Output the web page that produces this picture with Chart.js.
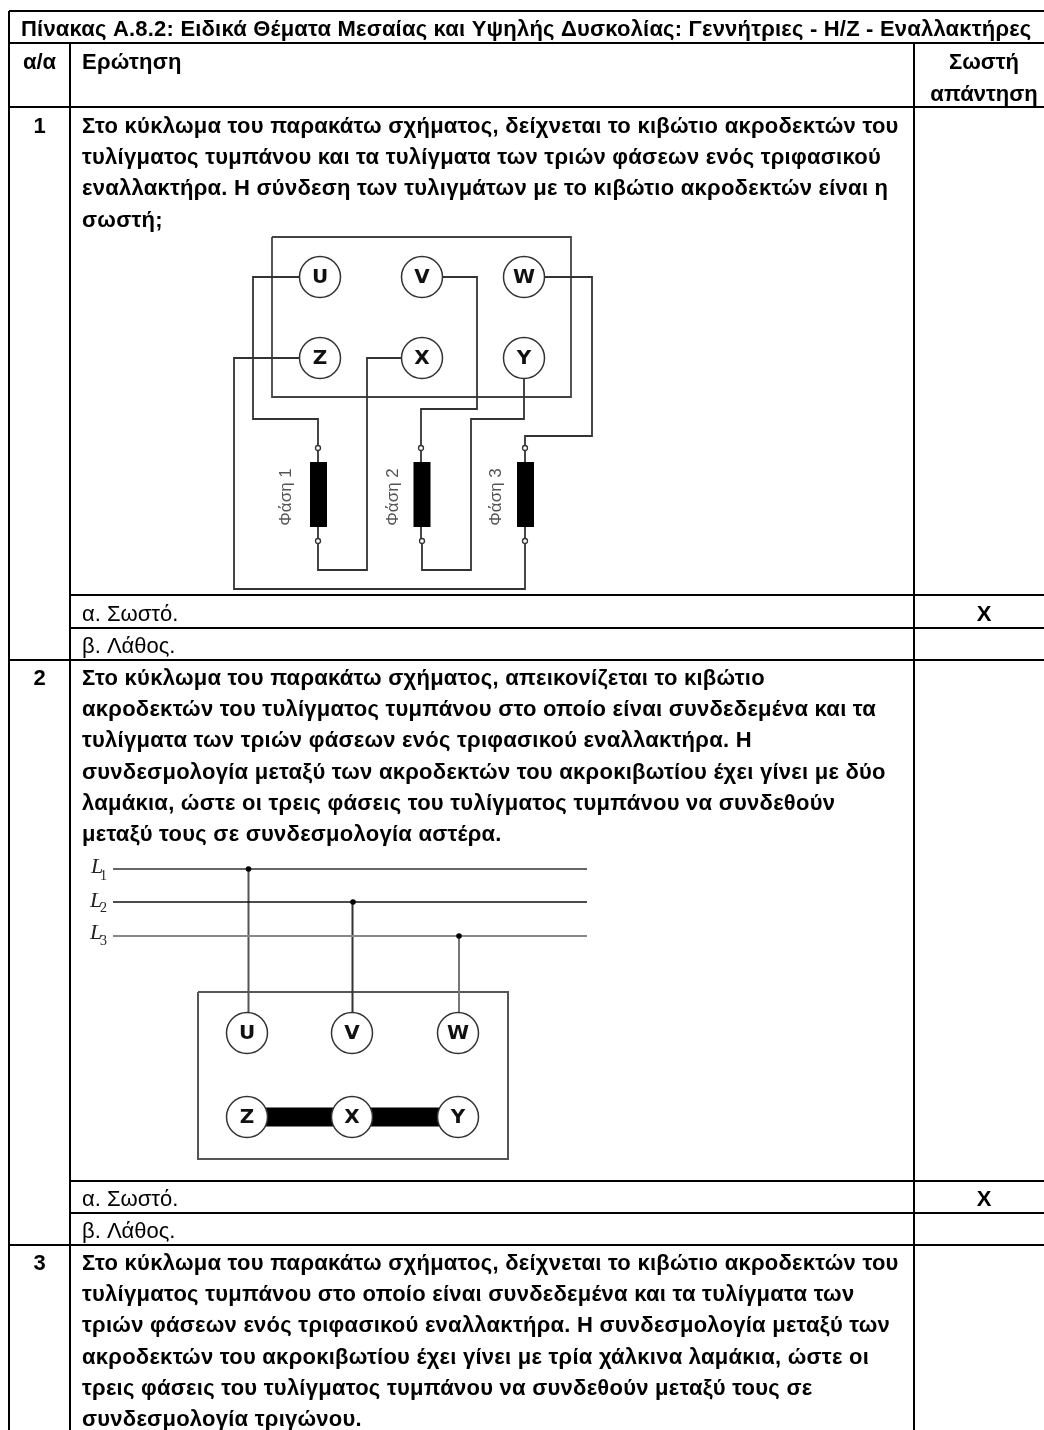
<!DOCTYPE html>
<html lang="el">
<head>
<meta charset="utf-8">
<title>Πίνακας Α.8.2</title>
<script src="https://cdn.jsdelivr.net/npm/chart.js@4"></script>
<style>
  html, body { margin: 0; padding: 0; background: #fff; overflow: hidden; }
  canvas { display: block; }
</style>
</head>
<body>
<canvas id="tableChart" width="1044" height="1430"></canvas>
<script>
const tableRules = [
  [[9, 11], [1044, 11]], [[9, 43], [1044, 43]], [[9, 107], [1044, 107]],
  [[70, 595], [1044, 595]], [[70, 628], [1044, 628]], [[9, 660], [1044, 660]],
  [[70, 1181], [1044, 1181]], [[70, 1213], [1044, 1213]], [[9, 1245], [1044, 1245]],
  [[9, 11], [9, 1430]], [[70, 43], [70, 1430]], [[914, 43], [914, 1430]]
];

// first figure
const boxOne = [[272, 237], [571, 237], [571, 397], [272, 397], [272, 237]];
const wiresOne = [
  [[299, 277], [253, 277], [253, 419], [318, 419], [318, 448]],
  [[443, 277], [477, 277], [477, 409], [421, 409], [421, 448]],
  [[545, 277], [592, 277], [592, 436], [525, 436], [525, 448]],
  [[524, 379], [524, 419], [471, 419], [471, 570], [422, 570], [422, 541]],
  [[401, 358], [367, 358], [367, 570], [318, 570], [318, 541]],
  [[299, 358], [234, 358], [234, 589], [525, 589], [525, 541]],
  [[318, 448], [318, 541]], [[421, 448], [421, 541]], [[525, 448], [525, 541]]
];
const coilsOne = [[[318.5, 462], [318.5, 527]], [[422, 462], [422, 527]], [[525.5, 462], [525.5, 527]]];
const coilPins = [[318, 448], [421, 448], [525, 448], [318, 541], [422, 541], [525, 541]];
const terminalsOne = [[320, 277], [422, 277], [524, 277], [320, 358], [422, 358], [524, 358]];
const terminalNames = ['U', 'V', 'W', 'Z', 'X', 'Y'];
const phaseNames = ['Φάση 1', 'Φάση 2', 'Φάση 3'];
const phaseSpots = [[286, 497], [393.5, 497], [496.5, 497]];

// second figure
const busLines = [[[113, 869], [587, 869]], [[113, 902], [587, 902]], [[113, 936], [587, 936]]];
const busDrops = [[[248.5, 869], [248.5, 1012]], [[352.5, 902], [352.5, 1012]], [[459, 936], [459, 1012]]];
const busDots = [[248.5, 869], [353, 902], [459, 936]];
const busNames = ['1', '2', '3'];
const busLetterSpots = [[91, 867], [90, 901], [90, 933]];
const busIndexSpots = [[100, 876], [100, 908], [100, 941]];
const boxTwo = [[198, 992], [508, 992], [508, 1159], [198, 1159], [198, 992]];
const linkBar = [[247, 1117], [458, 1117]];
const terminalsTwo = [[247, 1033], [352, 1033], [458, 1033], [247, 1117], [352, 1117], [458, 1117]];

// table text
const titleText = 'Πίνακας Α.8.2: Ειδικά Θέματα Μεσαίας και Υψηλής Δυσκολίας: Γεννήτριες - Η/Ζ - Εναλλακτήρες';
const headerTexts = ['α/α', 'Ερώτηση', 'Σωστή', 'απάντηση'];
const numberTexts = ['1', '2', '3'];
const questionOne = [
  'Στο κύκλωμα του παρακάτω σχήματος, δείχνεται το κιβώτιο ακροδεκτών του',
  'τυλίγματος τυμπάνου και τα τυλίγματα των τριών φάσεων ενός τριφασικού',
  'εναλλακτήρα. Η σύνδεση των τυλιγμάτων με το κιβώτιο ακροδεκτών είναι η',
  'σωστή;'
];
const questionTwo = [
  'Στο κύκλωμα του παρακάτω σχήματος, απεικονίζεται το κιβώτιο',
  'ακροδεκτών του τυλίγματος τυμπάνου στο οποίο είναι συνδεδεμένα και τα',
  'τυλίγματα των τριών φάσεων ενός τριφασικού εναλλακτήρα. Η',
  'συνδεσμολογία μεταξύ των ακροδεκτών του ακροκιβωτίου έχει γίνει με δύο',
  'λαμάκια, ώστε οι τρεις φάσεις του τυλίγματος τυμπάνου να συνδεθούν',
  'μεταξύ τους σε συνδεσμολογία αστέρα.'
];
const questionThree = [
  'Στο κύκλωμα του παρακάτω σχήματος, δείχνεται το κιβώτιο ακροδεκτών του',
  'τυλίγματος τυμπάνου στο οποίο είναι συνδεδεμένα και τα τυλίγματα των',
  'τριών φάσεων ενός τριφασικού εναλλακτήρα. Η συνδεσμολογία μεταξύ των',
  'ακροδεκτών του ακροκιβωτίου έχει γίνει με τρία χάλκινα λαμάκια, ώστε οι',
  'τρεις φάσεις του τυλίγματος τυμπάνου να συνδεθούν μεταξύ τους σε',
  'συνδεσμολογία τριγώνου.'
];
const questionRows = [127, 679, 1264];
const lineGap = 31.2;
const choiceTexts = ['α. Σωστό.', 'β. Λάθος.'];
const choiceRows = [614.5, 647, 1199.5, 1231.5];
const markText = 'X';
const markRows = [614.5, 1199.5];

const SANS = '"Liberation Sans", Arial, sans-serif';

function toPoints(path) {
  return path.map(p => ({ x: p[0], y: p[1] }));
}

function pathSet(path, color, width, order) {
  return {
    data: toPoints(path), showLine: true, pointRadius: 0,
    borderColor: color, borderWidth: width, order: order,
    borderCapStyle: 'butt', borderJoinStyle: 'miter', tension: 0, clip: false
  };
}

function pointSet(points, radius, fill, stroke, width, order) {
  return {
    data: toPoints(points), showLine: false, pointRadius: radius, pointHoverRadius: radius,
    backgroundColor: fill, borderColor: stroke, borderWidth: width, order: order, clip: false
  };
}

// higher order is painted first
const busColors = ['#666', '#111', '#888'];
const busWidths = [2, 1.4, 2.2];
const dropColors = ['#555', '#333', '#777'];
const datasets = [];
tableRules.forEach(r => datasets.push(pathSet(r, '#000', 2, 1)));
datasets.push(pathSet(boxOne, '#444', 1.8, 9));
wiresOne.forEach(w => datasets.push(pathSet(w, '#333', 1.8, 8)));
coilsOne.forEach(c => datasets.push(pathSet(c, '#000', 17, 7)));
datasets.push(pointSet(coilPins, 2.5, '#fff', '#333', 1.3, 6));
datasets.push(pointSet(terminalsOne, 20.5, '#fff', '#333', 1.5, 5));
busLines.forEach((l, i) => datasets.push(pathSet(l, busColors[i], busWidths[i], 8)));
busDrops.forEach((l, i) => datasets.push(pathSet(l, dropColors[i], 2, 8)));
datasets.push(pointSet(busDots, 2.8, '#000', '#000', 0, 6));
datasets.push(pathSet(boxTwo, '#555', 2, 9));
datasets.push(pathSet(linkBar, '#000', 19, 7));
datasets.push(pointSet(terminalsTwo, 20.5, '#fff', '#333', 1.5, 5));

function put(ctx, sx, sy, text, x, y, font, align, color, spacing) {
  ctx.font = font;
  ctx.letterSpacing = spacing || '0px';
  ctx.textAlign = align || 'left';
  ctx.textBaseline = 'middle';
  ctx.fillStyle = color || '#000';
  ctx.fillText(text, sx.getPixelForValue(x), sy.getPixelForValue(y));
}

const tableText = {
  id: 'tableText',
  afterDatasetsDraw(chart) {
    const ctx = chart.ctx, sx = chart.scales.x, sy = chart.scales.y;
    const bold = 'bold 22px ' + SANS, plain = '22px ' + SANS;
    ctx.save();
    put(ctx, sx, sy, titleText, 21, 30.3, bold, 'left', '#000', '0.2px');
    put(ctx, sx, sy, headerTexts[0], 39.5, 63, bold, 'center');
    put(ctx, sx, sy, headerTexts[1], 82, 63, bold, 'left', '#000', '0.25px');
    put(ctx, sx, sy, headerTexts[2], 984, 63, bold, 'center');
    put(ctx, sx, sy, headerTexts[3], 984, 94.5, bold, 'center');
    numberTexts.forEach((t, i) => put(ctx, sx, sy, t, 39.5, questionRows[i], bold, 'center'));
    [questionOne, questionTwo, questionThree].forEach((lines, i) => {
      lines.forEach((t, k) => put(ctx, sx, sy, t, 82, questionRows[i] + k * lineGap, bold, 'left', '#000', '0.25px'));
    });
    choiceRows.forEach((y, i) => put(ctx, sx, sy, choiceTexts[i % 2], 82, y, plain));
    markRows.forEach(y => put(ctx, sx, sy, markText, 984, y, bold, 'center'));

    // terminal letters of both figures
    const letter = 'bold 20px "DejaVu Sans", sans-serif';
    terminalsOne.concat(terminalsTwo).forEach((p, i) => {
      put(ctx, sx, sy, terminalNames[i % 6], p[0], p[1] + 1, letter, 'center', '#111');
    });

    busNames.forEach((n, i) => {
      put(ctx, sx, sy, 'L', busLetterSpots[i][0], busLetterSpots[i][1], 'italic 22px "Liberation Serif", serif', 'left', '#222');
      put(ctx, sx, sy, n, busIndexSpots[i][0], busIndexSpots[i][1], '14px "Liberation Serif", serif', 'left', '#222');
    });

    phaseNames.forEach((t, i) => {
      ctx.save();
      ctx.translate(sx.getPixelForValue(phaseSpots[i][0]), sy.getPixelForValue(phaseSpots[i][1]));
      ctx.rotate(-Math.PI / 2);
      ctx.font = '17px ' + SANS;
      ctx.letterSpacing = '0px';
      ctx.textAlign = 'center';
      ctx.textBaseline = 'middle';
      ctx.fillStyle = '#555';
      ctx.fillText(t, 0, 0);
      ctx.restore();
    });
    ctx.restore();
  }
};

new Chart(document.getElementById('tableChart'), {
  type: 'scatter',
  data: { datasets: datasets },
  plugins: [tableText],
  options: {
    responsive: false,
    animation: false,
    events: [],
    layout: { padding: 0, autoPadding: false },
    plugins: { legend: { display: false }, tooltip: { enabled: false } },
    scales: {
      x: { type: 'linear', display: false, min: 0, max: 1044 },
      y: { type: 'linear', display: false, min: 0, max: 1430, reverse: true }
    }
  }
});
</script>
</body>
</html>
